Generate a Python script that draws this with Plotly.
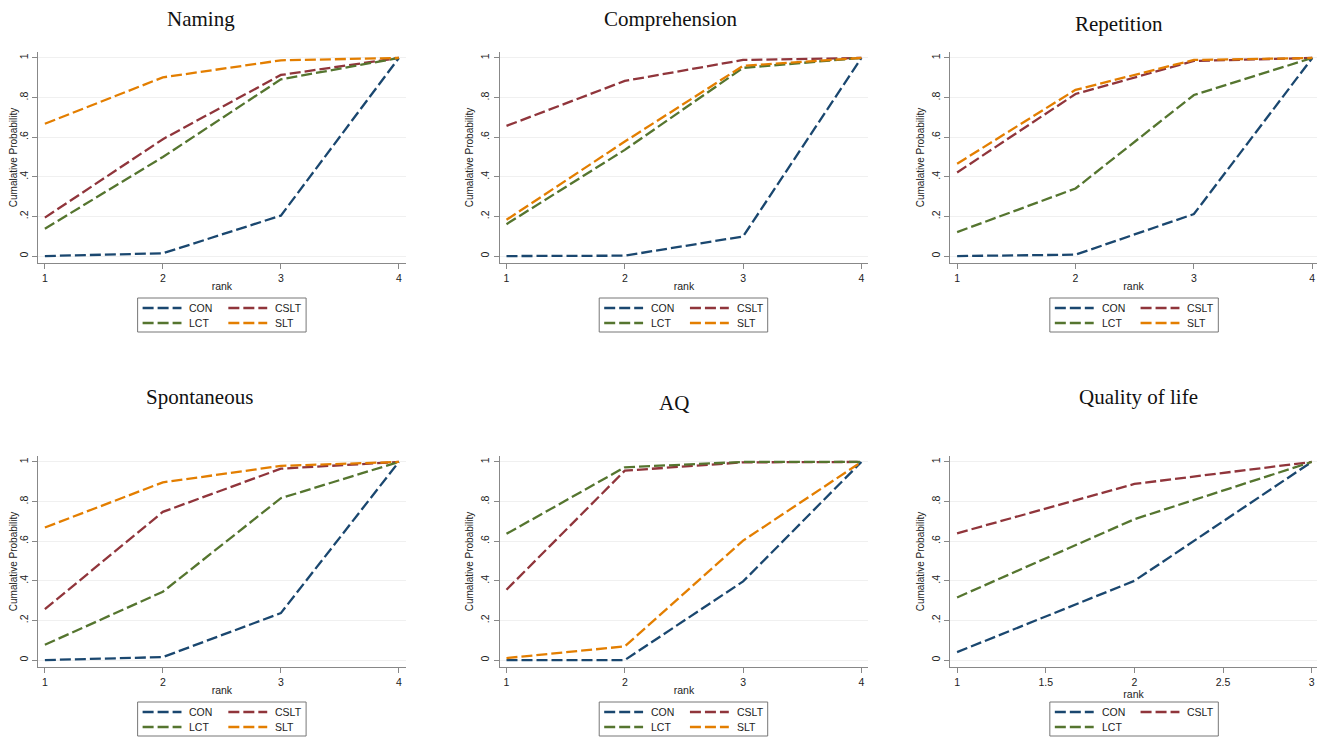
import plotly.graph_objects as go

# the page body has an 8px margin, so the figure starts at (8, 8) in the window
PAGE_OFFSET = 8
W, H = 1325 - PAGE_OFFSET, 743 - PAGE_OFFSET

RANKS = [1, 2, 3, 4]
QOL_RANKS = [1, 2, 3]

# cumulative ranking probabilities
NAMING_CON = [0.0, 0.014, 0.204, 1.0]
NAMING_CSLT = [0.194, 0.59, 0.914, 1.0]
NAMING_LCT = [0.138, 0.50, 0.892, 1.0]
NAMING_SLT = [0.668, 0.902, 0.988, 1.0]

COMP_CON = [0.0, 0.002, 0.099, 1.0]
COMP_CSLT = [0.657, 0.884, 0.99, 1.0]
COMP_LCT = [0.161, 0.536, 0.95, 1.0]
COMP_SLT = [0.183, 0.578, 0.96, 1.0]

REP_CON = [0.0, 0.007, 0.212, 1.0]
REP_CSLT = [0.422, 0.818, 0.985, 1.0]
REP_LCT = [0.121, 0.341, 0.813, 1.0]
REP_SLT = [0.466, 0.839, 0.99, 1.0]

SPON_CON = [0.0, 0.015, 0.237, 1.0]
SPON_CSLT = [0.257, 0.748, 0.966, 1.0]
SPON_LCT = [0.077, 0.345, 0.817, 1.0]
SPON_SLT = [0.669, 0.897, 0.98, 1.0]

AQ_CON = [0.0, 0.0, 0.397, 1.0]
AQ_CSLT = [0.355, 0.956, 0.998, 1.0]
AQ_LCT = [0.637, 0.973, 1.0, 1.0]
AQ_SLT = [0.01, 0.069, 0.603, 1.0]

QOL_CON = [0.04, 0.40, 1.0]
QOL_CSLT = [0.64, 0.889, 1.0]
QOL_LCT = [0.316, 0.711, 1.0]

Y_TICKS = [0, 0.2, 0.4, 0.6, 0.8, 1]
Y_TICK_TEXT = ["0", ".2", ".4", ".6", ".8", "1"]
X_TICKS_4 = [1, 2, 3, 4]
X_TICKS_QOL = [1, 1.5, 2, 2.5, 3]

COLORS = {
    "CON": "#1a476f",
    "CSLT": "#90353b",
    "LCT": "#55752f",
    "SLT": "#e37e00",
}
# Stata-style legend: 2 columns, CON/CSLT on top row, LCT/SLT below
LEGEND_CELL = {"CON": (0, 0), "CSLT": (1, 0), "LCT": (0, 1), "SLT": (1, 1)}
DASH = "11px,4px"

# (title, ranks, series, x ticks, x range, column, row, title centre in window px)
PANELS = [
    ("Naming", RANKS, {"CON": NAMING_CON, "CSLT": NAMING_CSLT, "LCT": NAMING_LCT, "SLT": NAMING_SLT},
     X_TICKS_4, [0.941, 4.059], 0, 0, (198, 19)),
    ("Comprehension", RANKS, {"CON": COMP_CON, "CSLT": COMP_CSLT, "LCT": COMP_LCT, "SLT": COMP_SLT},
     X_TICKS_4, [0.941, 4.059], 1, 0, (669, 19)),
    ("Repetition", RANKS, {"CON": REP_CON, "CSLT": REP_CSLT, "LCT": REP_LCT, "SLT": REP_SLT},
     X_TICKS_4, [0.941, 4.04], 2, 0, (1118, 24)),
    ("Spontaneous", RANKS, {"CON": SPON_CON, "CSLT": SPON_CSLT, "LCT": SPON_LCT, "SLT": SPON_SLT},
     X_TICKS_4, [0.941, 4.059], 0, 1, (196, 397)),
    ("AQ", RANKS, {"CON": AQ_CON, "CSLT": AQ_CSLT, "LCT": AQ_LCT, "SLT": AQ_SLT},
     X_TICKS_4, [0.941, 4.059], 1, 1, (672, 403)),
    ("Quality of life", QOL_RANKS, {"CON": QOL_CON, "CSLT": QOL_CSLT, "LCT": QOL_LCT},
     X_TICKS_QOL, [0.961, 3.03], 2, 1, (1138, 397)),
]

# plot-area edges in window pixels
COL_PX = [(34, 403), (497, 867), (949, 1317)]
ROW_PX = [(52, 263), (456, 667)]
LEGEND_LEFT_PX = [134, 597, 1049]
LEGEND_TOP_PX = [298, 702]
LEGEND_W, LEGEND_H = 169, 34


def px_x(px):
    return (px - PAGE_OFFSET) / W


def px_y(py):
    return 1 - (py - PAGE_OFFSET) / H


AXIS_FONT = dict(family="Liberation Sans, Arial, sans-serif", size=10.5, color="#222")
LEGEND_FONT = dict(family="Liberation Sans, Arial, sans-serif", size=10.5, color="#222")

fig = go.Figure()
annotations = []
shapes = []
layout = dict(
    width=W,
    height=H,
    margin=dict(l=0, r=0, t=0, b=0),
    paper_bgcolor="white",
    plot_bgcolor="white",
    showlegend=False,
)

for i, (title, ranks, series, xticks, xrange, col, row, title_pos) in enumerate(PANELS):
    n = i + 1
    suffix = "" if n == 1 else str(n)

    for name, values in series.items():
        fig.add_trace(
            go.Scatter(
                x=ranks,
                y=values,
                mode="lines",
                name=name,
                line=dict(color=COLORS[name], width=2.3, dash=DASH),
                xaxis="x" + suffix,
                yaxis="y" + suffix,
                hoverinfo="x+y+name",
            )
        )

    x0, x1 = COL_PX[col]
    y0, y1 = ROW_PX[row]
    layout["xaxis" + suffix] = dict(
        domain=[px_x(x0), px_x(x1)],
        anchor="y" + suffix,
        range=xrange,
        tickvals=xticks,
        ticktext=[f"{t:g}" for t in xticks],
        ticks="outside",
        ticklen=5,
        tickcolor="#888",
        showline=True,
        linecolor="#888",
        linewidth=1,
        showgrid=False,
        zeroline=False,
        tickfont=AXIS_FONT,
        title=dict(text="rank", font=AXIS_FONT, standoff=0),
    )
    layout["yaxis" + suffix] = dict(
        domain=[px_y(y1), px_y(y0)],
        anchor="x" + suffix,
        range=[-0.035, 1.03],
        tickvals=Y_TICKS,
        ticktext=Y_TICK_TEXT,
        tickangle=-90,
        ticks="outside",
        ticklen=5,
        tickcolor="#888",
        showline=True,
        linecolor="#888",
        linewidth=1,
        showgrid=True,
        gridcolor="#f0f0f0",
        gridwidth=1,
        zeroline=False,
        tickfont=AXIS_FONT,
        title=dict(text="Cumalative Probability", font=dict(AXIS_FONT, size=10), standoff=3),
    )

    # legend box drawn in paper space
    left = LEGEND_LEFT_PX[col]
    top = LEGEND_TOP_PX[row]
    shapes.append(
        dict(
            type="rect", xref="paper", yref="paper",
            x0=px_x(left), x1=px_x(left + LEGEND_W),
            y0=px_y(top + LEGEND_H), y1=px_y(top),
            line=dict(color="#777", width=1), fillcolor="white", layer="above",
        )
    )
    for name in series:
        c, r = LEGEND_CELL[name]
        lx = left + 5 + 86 * c
        ly = top + 10 + 15 * r
        shapes.append(
            dict(
                type="line", xref="paper", yref="paper",
                x0=px_x(lx), x1=px_x(lx + 39), y0=px_y(ly), y1=px_y(ly),
                line=dict(color=COLORS[name], width=2.3, dash=DASH), layer="above",
            )
        )
        annotations.append(
            dict(
                text=name, xref="paper", yref="paper",
                x=px_x(lx + 45), y=px_y(ly),
                xanchor="left", yanchor="middle", showarrow=False,
                font=LEGEND_FONT,
            )
        )

    annotations.append(
        dict(
            text=title,
            x=px_x(title_pos[0]),
            y=px_y(title_pos[1]),
            xref="paper",
            yref="paper",
            xanchor="center",
            yanchor="middle",
            showarrow=False,
            font=dict(family="Liberation Serif, Times New Roman, serif", size=21, color="#111"),
        )
    )

layout["annotations"] = annotations
layout["shapes"] = shapes
fig.update_layout(**layout)

fig.write_html("out.html")
